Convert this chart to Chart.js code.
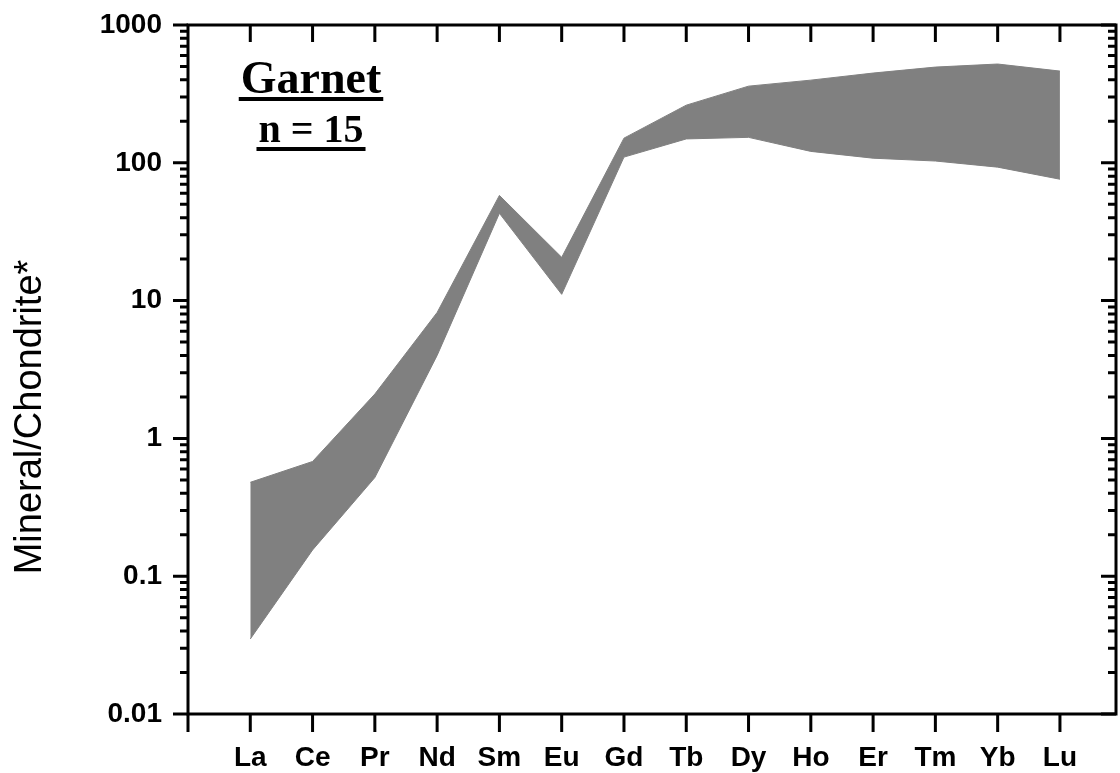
<!DOCTYPE html>
<html><head><meta charset="utf-8">
<script src="https://cdn.jsdelivr.net/npm/chart.js@4/dist/chart.umd.min.js"></script>
<style>html,body{margin:0;padding:0;background:#fff;} canvas{display:block;}</style>
</head><body>
<canvas id="c" width="1120" height="773"></canvas>
<script>
const elements = ['La','Ce','Pr','Nd','Sm','Eu','Gd','Tb','Dy','Ho','Er','Tm','Yb','Lu'];
const upperValues = [0.48, 0.68, 2.1, 8.2, 58, 20.6, 151, 262, 360, 398, 448, 495, 521, 463];
const lowerValues = [0.035, 0.155, 0.52, 4.0, 43, 11.1, 110, 149, 153, 121, 108, 103, 93, 76];
const yTickValues = [0.01, 0.1, 1, 10, 100, 1000];
const yTickLabels = ['0.01', '0.1', '1', '10', '100', '1000'];
const annotationTitle = 'Garnet';
const annotationCount = 'n = 15';
const yAxisTitle = 'Mineral/Chondrite*';

const SANS = '"Liberation Sans", Arial, sans-serif';
const SERIF = '"Liberation Serif", "Times New Roman", serif';

const framePlugin = {
  id: 'frame',
  afterDatasetsDraw(chart) {
    const {ctx, chartArea: a, scales: {x, y}} = chart;
    ctx.save();
    ctx.strokeStyle = '#000';
    ctx.lineWidth = 3;
    ctx.lineCap = 'butt';
    ctx.strokeRect(a.left, a.top, a.right - a.left, a.bottom - a.top);
    ctx.beginPath();
    x.ticks.forEach(t => {
      const px = x.getPixelForValue(t.value);
      ctx.moveTo(px, a.bottom); ctx.lineTo(px, a.bottom + 18);
      if (t.value > 0) { ctx.moveTo(px, a.top); ctx.lineTo(px, a.top + 17); }
    });
    yTickValues.forEach((v, i) => {
      const py = y.getPixelForValue(v);
      ctx.moveTo(a.left - 15, py); ctx.lineTo(a.left, py);
      ctx.moveTo(a.right - 15, py); ctx.lineTo(a.right, py);
      if (i < yTickValues.length - 1) {
        for (let m = 2; m <= 9; m++) {
          const pm = y.getPixelForValue(v * m);
          ctx.moveTo(a.left - 8, pm); ctx.lineTo(a.left, pm);
          ctx.moveTo(a.right - 8, pm); ctx.lineTo(a.right, pm);
        }
      }
    });
    ctx.stroke();
    ctx.restore();
  },
  afterDraw(chart) {
    const {ctx} = chart;
    ctx.save();
    ctx.fillStyle = '#000';
    ctx.textAlign = 'center';
    ctx.textBaseline = 'alphabetic';
    ctx.font = 'bold 46px ' + SERIF;
    ctx.fillText(annotationTitle, 311, 93);
    let w = ctx.measureText(annotationTitle).width;
    ctx.fillRect(311 - w / 2 - 2, 97, w + 4, 4);
    ctx.font = 'bold 40px ' + SERIF;
    ctx.fillText(annotationCount, 311, 142);
    w = ctx.measureText(annotationCount).width;
    ctx.fillRect(311 - w / 2 - 2, 147, w + 4, 4);
    ctx.translate(41, 417);
    ctx.rotate(-Math.PI / 2);
    ctx.font = '38px ' + SANS;
    ctx.fillText(yAxisTitle, 0, 0);
    ctx.restore();
  }
};

new Chart(document.getElementById('c'), {
  type: 'line',
  data: {
    datasets: [
      {
        data: elements.map((e, i) => ({x: i + 1, y: upperValues[i]})),
        fill: '+1', backgroundColor: '#808080', borderColor: '#808080',
        borderWidth: 1, pointRadius: 0, tension: 0
      },
      {
        data: elements.map((e, i) => ({x: i + 1, y: lowerValues[i]})),
        fill: false, borderColor: '#808080', borderWidth: 1, pointRadius: 0, tension: 0
      }
    ]
  },
  options: {
    responsive: false, animation: false, devicePixelRatio: 1,
    layout: {padding: {top: 25, right: 4, left: 0, bottom: 0}},
    plugins: {legend: {display: false}, tooltip: {enabled: false}},
    scales: {
      x: {
        type: 'linear', min: 0, max: 14.9,
        grid: {display: false, drawTicks: false}, border: {display: false},
        ticks: {
          stepSize: 1, includeBounds: false, autoSkip: false, maxRotation: 0, minRotation: 0,
          padding: 27, color: '#000', font: {family: SANS, size: 28, weight: 'bold'},
          callback: v => { const i = Math.round(v) - 1; return elements[i] !== undefined ? elements[i] : ''; }
        },
        afterFit(s) { s.height = 59; s.paddingLeft = 0; s.paddingRight = 0; }
      },
      y: {
        type: 'logarithmic', min: 0.01, max: 1000,
        grid: {display: false, drawTicks: false}, border: {display: false},
        afterBuildTicks(s) { s.ticks = yTickValues.map(v => ({value: v})); },
        ticks: {
          padding: 26, autoSkip: false, color: '#000', font: {family: SANS, size: 28, weight: 'bold'},
          callback: v => { const i = yTickValues.findIndex(t => Math.abs(t - v) / t < 1e-6); return i >= 0 ? yTickLabels[i] : ''; }
        },
        afterFit(s) { s.width = 188; s.paddingTop = 0; s.paddingBottom = 0; }
      }
    }
  },
  plugins: [framePlugin]
});
</script>
</body></html>
